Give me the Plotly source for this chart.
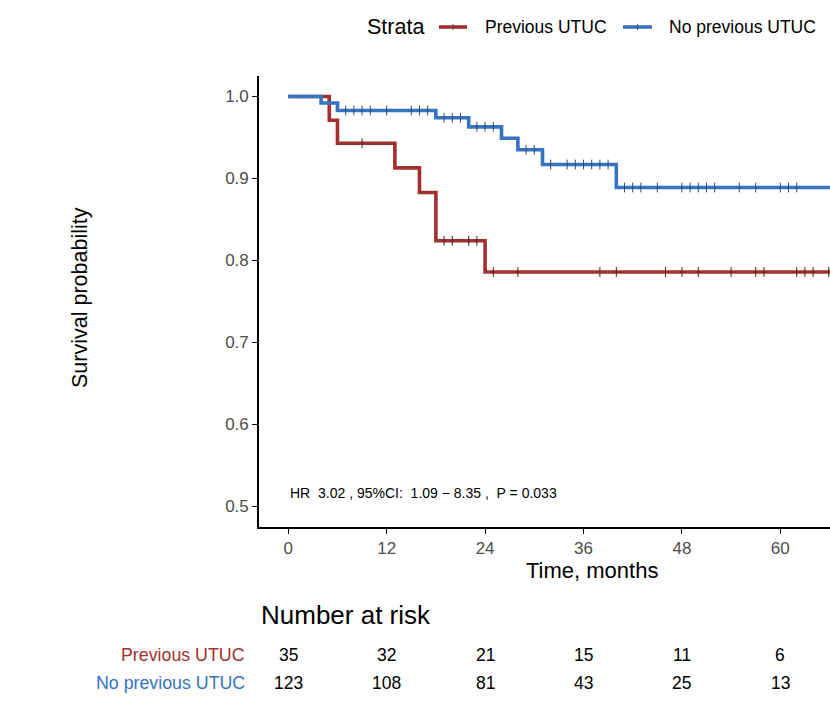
import plotly.graph_objects as go
import numpy as np

# ---------------- data ----------------
red_times = [0, 5, 6, 13, 16, 18, 24, 80]
red_surv = [1.0, 0.971, 0.943, 0.913, 0.883, 0.824, 0.786, 0.786]
red_censor = [9, 19, 20, 22, 23, 25, 28, 38, 40, 46, 48, 50, 54, 57, 58, 62, 63, 64, 65.9]

blue_times = [0, 4, 6, 18, 22, 26, 28, 31, 40, 80]
blue_surv = [1.0, 0.992, 0.983, 0.974, 0.963, 0.949, 0.935, 0.917, 0.889, 0.889]
blue_censor = [7, 8, 9, 10, 12, 15, 16, 17, 19, 20, 21, 23, 24, 25, 29, 30,
               32, 34, 35, 36, 37, 38, 39, 41, 42, 43, 45, 48, 49, 50, 51, 52,
               55, 57, 60, 61, 62]

risk_times = [0, 12, 24, 36, 48, 60]
risk_prev = [35, 32, 21, 15, 11, 6]
risk_noprev = [123, 108, 81, 43, 25, 13]

x_ticks = [0, 12, 24, 36, 48, 60]
y_ticks = [0.5, 0.6, 0.7, 0.8, 0.9, 1.0]

NB = "\u00a0"
hr_text = f"HR {NB}3.02 , 95%CI: {NB}1.09 \u2212 8.35 , {NB}P = 0.033"

RED = "#A0312E"
BLUE = "#3573C3"
FONT = "Liberation Sans"


def step_val(times, surv, t):
    idx = np.searchsorted(times, t, side="right") - 1
    return surv[idx]


fig = go.Figure()
for times, surv, cens, col, tickcol, name in [
    (red_times, red_surv, red_censor, RED, "#4a1a18", "Previous UTUC"),
    (blue_times, blue_surv, blue_censor, BLUE, "#3a4a60", "No previous UTUC"),
]:
    fig.add_trace(go.Scatter(x=times, y=surv, mode="lines", line_shape="hv",
                             line=dict(color=col, width=3.6), name=name,
                             showlegend=False))
    fig.add_trace(go.Scatter(x=cens, y=[step_val(times, surv, c) for c in cens],
                             mode="markers", showlegend=False,
                             marker=dict(symbol="line-ns", size=7,
                                         line=dict(color=tickcol, width=1))))

W, H = 830, 720
L, R, T, B = 259, 0, 76, 193
pw = W - L - R
ph = H - T - B


def px(xp):
    return (xp - L) / pw


def py(yp):
    return (H - B - yp) / ph


annotations = []
shapes = []

# x title
annotations.append(dict(text="Time, months", xref="paper", yref="paper",
                        x=px(592), y=py(570), xanchor="center", yanchor="middle",
                        showarrow=False, font=dict(size=22, color="black", family=FONT)))
# y title
annotations.append(dict(text="Survival probability", xref="paper", yref="paper",
                        x=px(80), y=py(298), xanchor="center", yanchor="middle",
                        textangle=-90, showarrow=False,
                        font=dict(size=21.5, color="black", family=FONT)))
# HR text
annotations.append(dict(text=hr_text, xref="x", yref="y", x=0, y=0.517,
                        xanchor="left", yanchor="middle", showarrow=False,
                        font=dict(size=14, color="black", family=FONT)))

# legend
annotations.append(dict(text="Strata", xref="paper", yref="paper", x=px(365), y=py(27),
                        xanchor="left", yanchor="middle", showarrow=False,
                        font=dict(size=21.5, color="black", family=FONT)))
for (x0, x1, tx, col, lab) in [(439, 467, 483, RED, "Previous UTUC"),
                               (623, 652, 667, BLUE, "No previous UTUC")]:
    shapes.append(dict(type="line", xref="paper", yref="paper",
                       x0=px(x0), x1=px(x1), y0=py(27), y1=py(27),
                       line=dict(color=col, width=3.6)))
    shapes.append(dict(type="line", xref="paper", yref="paper",
                       x0=px((x0 + x1) / 2), x1=px((x0 + x1) / 2), y0=py(24), y1=py(30),
                       line=dict(color="#555555", width=1)))
    annotations.append(dict(text=lab, xref="paper", yref="paper", x=px(tx), y=py(27),
                            xanchor="left", yanchor="middle", showarrow=False,
                            font=dict(size=17.5, color="black", family=FONT)))

# risk table
annotations.append(dict(text="Number at risk", xref="paper", yref="paper", x=0, y=py(615),
                        xanchor="left", yanchor="middle", showarrow=False,
                        font=dict(size=26, color="black", family=FONT)))
for rowy, lab, col, vals in [(655, "Previous UTUC", RED, risk_prev),
                             (683, "No previous UTUC", BLUE, risk_noprev)]:
    annotations.append(dict(text=lab, xref="paper", yref="paper", x=px(247), y=py(rowy),
                            xanchor="right", yanchor="middle", showarrow=False,
                            font=dict(size=17.8, color=col, family=FONT)))
    for t, v in zip(risk_times, vals):
        annotations.append(dict(text=str(v), xref="x", yref="paper", x=t, y=py(rowy),
                                xanchor="center", yanchor="middle", showarrow=False,
                                font=dict(size=17.5, color="black", family=FONT)))

fig.update_layout(
    width=W, height=H,
    margin=dict(l=L, r=R, t=T, b=B, pad=0),
    paper_bgcolor="white", plot_bgcolor="white",
    font=dict(family=FONT),
    showlegend=False,
    annotations=annotations, shapes=shapes,
    xaxis=dict(range=[-3.57, 66.06], tickvals=x_ticks, ticks="outside", ticklen=5,
               tickwidth=1.2, tickcolor="black", showline=True, linecolor="black",
               linewidth=1.6, showgrid=False, zeroline=False,
               tickfont=dict(size=17, color="#4D4D4D", family=FONT)),
    yaxis=dict(range=[0.475, 1.025], tickvals=y_ticks, tickformat=".1f", ticks="outside",
               ticklen=5, tickwidth=1.2, tickcolor="black", showline=True,
               linecolor="black", linewidth=1.6, showgrid=False, zeroline=False,
               tickfont=dict(size=17, color="#4D4D4D", family=FONT)),
)

fig.write_html("out.html")
